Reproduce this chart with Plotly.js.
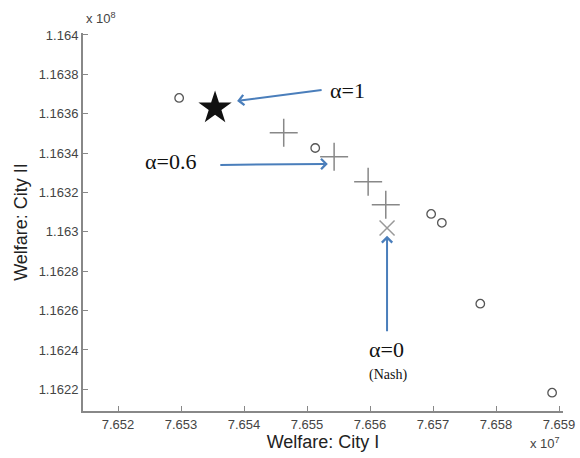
<!DOCTYPE html>
<html><head><meta charset="utf-8">
<script src="https://cdn.plot.ly/plotly-3.0.1.min.js"></script>
<style>body{margin:0;background:#fff}#c{width:580px;height:458px}</style>
</head><body><div id="c"></div>
<script>
// Data (real units): City I welfare (x), City II welfare (y)
const circleX = [76529700, 76551300, 76569700, 76571400, 76577500, 76588900];
const circleY = [116368000, 116342600, 116309100, 116304600, 116263500, 116218300];
const starX = [76535400];
const starY = [116362900];
const plusX = [76546300, 76554300, 76559700, 76562500];
const plusY = [116350300, 116338100, 116325400, 116313700];
const nashX = [76562700];
const nashY = [116302000];
const xTickLabels = ['7.652','7.653','7.654','7.655','7.656','7.657','7.658','7.659'];
const yTickLabels = ['1.1622','1.1624','1.1626','1.1628','1.163','1.1632','1.1634','1.1636','1.1638','1.164'];

const xTickVals = xTickLabels.map(s => parseFloat(s) * 1e7);
const yTickVals = yTickLabels.map(s => parseFloat(s) * 1e8);

const traces = [
  {x: circleX, y: circleY, mode: 'markers', type: 'scatter',
   marker: {symbol: 'circle-open', size: 8.5, color: '#555', line: {width: 1.3}}},
  {x: starX, y: starY, mode: 'markers', type: 'scatter',
   marker: {symbol: 'star', size: 25, color: '#111'}},
  {x: plusX, y: plusY, mode: 'markers', type: 'scatter',
   marker: {symbol: 'cross-thin-open', size: 20, color: '#888', line: {width: 1.5, color: '#888'}}},
  {x: nashX, y: nashY, mode: 'markers', type: 'scatter',
   marker: {symbol: 'x-thin-open', size: 15, color: '#999', line: {width: 1.5, color: '#999'}}}
];

const axisCommon = {
  showgrid: false, zeroline: false, showline: true, linecolor: '#888', linewidth: 2,
  ticks: 'inside', ticklen: 5, tickcolor: '#888', tickwidth: 1,
  tickfont: {family: 'Liberation Sans, Arial', size: 13, color: '#444'},
  tickmode: 'array'
};

const arrowColor = '#4a7ebb';
const serif = 'Liberation Serif, Times New Roman';
const layout = {
  width: 580, height: 458,
  margin: {l: 83, r: 17, t: 33, b: 47},
  paper_bgcolor: '#fff', plot_bgcolor: '#fff',
  showlegend: false,
  xaxis: Object.assign({}, axisCommon, {
    range: [76514440, 76590630], tickvals: xTickVals, ticktext: xTickLabels,
    title: {text: 'Welfare: City I', font: {family: 'Liberation Sans, Arial', size: 18, color: '#222'}, standoff: 4}
  }),
  yaxis: Object.assign({}, axisCommon, {
    range: [116209000, 116401000], tickvals: yTickVals, ticktext: yTickLabels,
    title: {text: 'Welfare: City II', font: {family: 'Liberation Sans, Arial', size: 18, color: '#222'}, standoff: 6}
  }),
  annotations: [
    {x: 76538900, y: 116366500, xref: 'x', yref: 'y', ax: 86, ay: -11, text: '', showarrow: true,
     arrowhead: 4, arrowsize: 1, arrowwidth: 2, arrowcolor: arrowColor},
    {x: 76553300, y: 116334500, xref: 'x', yref: 'y', ax: -109, ay: 1, text: '', showarrow: true,
     arrowhead: 4, arrowsize: 1, arrowwidth: 2, arrowcolor: arrowColor},
    {x: 76562700, y: 116298000, xref: 'x', yref: 'y', ax: 0, ay: 97, text: '', showarrow: true,
     arrowhead: 4, arrowsize: 1, arrowwidth: 2, arrowcolor: arrowColor},
    {x: 0.552, y: 0.849, xref: 'paper', yref: 'paper', xanchor: 'center', yanchor: 'middle', text: 'α=1', showarrow: false,
     font: {family: serif, size: 22, color: '#111'}},
    {x: 0.183, y: 0.659, xref: 'paper', yref: 'paper', xanchor: 'center', yanchor: 'middle', text: 'α=0.6', showarrow: false,
     font: {family: serif, size: 22, color: '#111'}},
    {x: 0.633, y: 0.162, xref: 'paper', yref: 'paper', xanchor: 'center', yanchor: 'middle', text: 'α=0', showarrow: false,
     font: {family: serif, size: 22, color: '#111'}},
    {x: 0.635, y: 0.095, xref: 'paper', yref: 'paper', xanchor: 'center', yanchor: 'middle', text: '(Nash)', showarrow: false,
     font: {family: serif, size: 14, color: '#111'}},
    {x: 0.002, y: 1.04, xref: 'paper', yref: 'paper', xanchor: 'left', yanchor: 'middle', text: 'x 10<sup>8</sup>', showarrow: false,
     font: {family: 'Liberation Sans, Arial', size: 13, color: '#444'}},
    {x: 0.998, y: -0.085, xref: 'paper', yref: 'paper', xanchor: 'right', yanchor: 'middle', text: 'x 10<sup>7</sup>', showarrow: false,
     font: {family: 'Liberation Sans, Arial', size: 13, color: '#444'}}
  ]
};

Plotly.newPlot('c', traces, layout, {staticPlot: true, displayModeBar: false});
</script></body></html>
